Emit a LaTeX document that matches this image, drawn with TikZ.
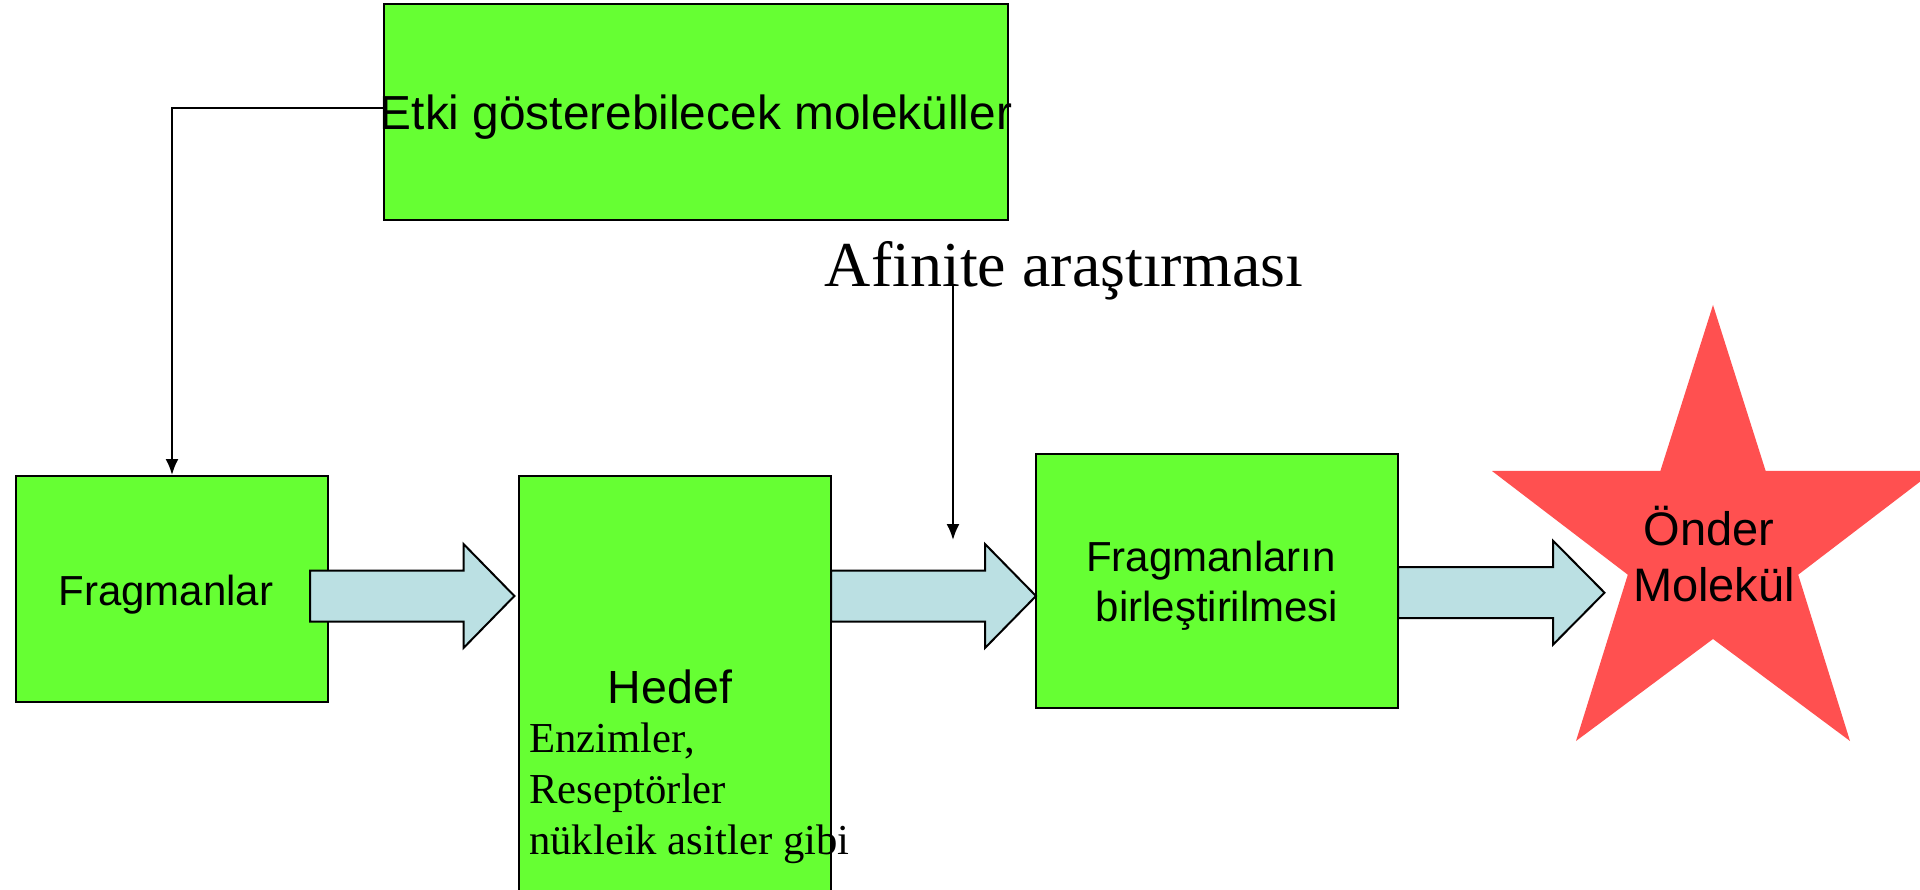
\documentclass[tikz,border=0pt]{standalone}
\usepackage{fontspec}
\setmainfont{Liberation Serif}
\newfontfamily\arial{Liberation Sans}
\usetikzlibrary{arrows.meta,calc}
\definecolor{boxgreen}{RGB}{102,255,51}
\definecolor{arrowblue}{RGB}{187,224,227}
\definecolor{starred}{RGB}{255,80,80}
\tikzset{
  greenbox/.style={draw=black, line width=2pt, fill=boxgreen, inner sep=0pt, rectangle},
  conn/.style={line width=2pt, -{Latex[length=16pt,width=13pt]}},
  blockarr/.style={draw=black, line width=2pt, fill=arrowblue, line join=miter},
  sanslbl/.style={font=\arial, inner sep=0pt, anchor=base},
  seriflbl/.style={inner sep=0pt, anchor=base west}
}
\newcommand{\blockarrow}[4]{% tail x, head base x, tip x, centre y
  \filldraw[blockarr] (#1,#4-25.5) -- (#2,#4-25.5) -- (#2,#4-52) -- (#3,#4)
    -- (#2,#4+52) -- (#2,#4+25.5) -- (#1,#4+25.5) -- cycle;}
\begin{document}
\begin{tikzpicture}[x=1pt,y=-1pt]
\useasboundingbox (0,0) rectangle (1920,890);
% boxes
\node[greenbox, minimum width=623.5pt, minimum height=216pt] (top) at (696,112) {};
\node[greenbox, minimum width=312pt, minimum height=226pt] (frag) at (172,589) {};
\node[greenbox, minimum width=312pt, minimum height=420pt] (hedef) at (675,686) {};
\node[greenbox, minimum width=362pt, minimum height=254.5pt] (birl) at (1217,580.75) {};
% star
\fill[starred] (1713,305) -- (1765.6,470.8) -- (1934,471) -- (1798.2,574.7)
  -- (1850,741) -- (1713,639) -- (1576,741) -- (1627.8,574.7)
  -- (1492,471) -- (1660.4,470.8) -- cycle;
% block arrows
\blockarrow{310}{463.5}{514.4}{596}
\blockarrow{831}{985}{1036}{596}
\blockarrow{1398}{1553}{1604.5}{592.7}
% texts
\node[sanslbl, font=\arial\fontsize{47.8}{56}\selectfont] (etki) at (696,130) {Etki gösterebilecek moleküller};
\node[sanslbl, font=\arial\fontsize{42}{50}\selectfont] (fragt) at (166,605) {Fragmanlar};
\node[sanslbl, font=\arial\fontsize{46.5}{56}\selectfont] (hedeft) at (670,703) {Hedef};
\node[seriflbl, font=\fontsize{42.7}{51}\selectfont] (enz) at (529,752) {Enzimler,};
\node[seriflbl, font=\fontsize{42.7}{51}\selectfont] (res) at (529,803) {Reseptörler};
\node[seriflbl, font=\fontsize{42.7}{51}\selectfont] (nuk) at (529,854) {nükleik asitler gibi};
\node[sanslbl, font=\arial\fontsize{42}{50}\selectfont] (birlt1) at (1211,571.7) {Fragmanların};
\node[sanslbl, font=\arial\fontsize{42}{50}\selectfont] (birlt2) at (1217,621.7) {birleştirilmesi};
\node[sanslbl, font=\arial\fontsize{47}{56}\selectfont] (onder) at (1709,545) {Önder};
\node[sanslbl, font=\arial\fontsize{47}{56}\selectfont] (molek) at (1714,601.7) {Molekül};
\node[inner sep=0pt, anchor=base, font=\fontsize{64}{72}\selectfont] (afi) at (1064,287) {Afinite araştırması};
% connectors
\draw[conn] ([yshift=4pt]top.west) -| (frag.north);
\coordinate (afiFrom) at (953,285);
\coordinate (afiTo) at (953,540);
\draw[conn] (afiFrom) -- (afiTo);
\end{tikzpicture}
\end{document}
